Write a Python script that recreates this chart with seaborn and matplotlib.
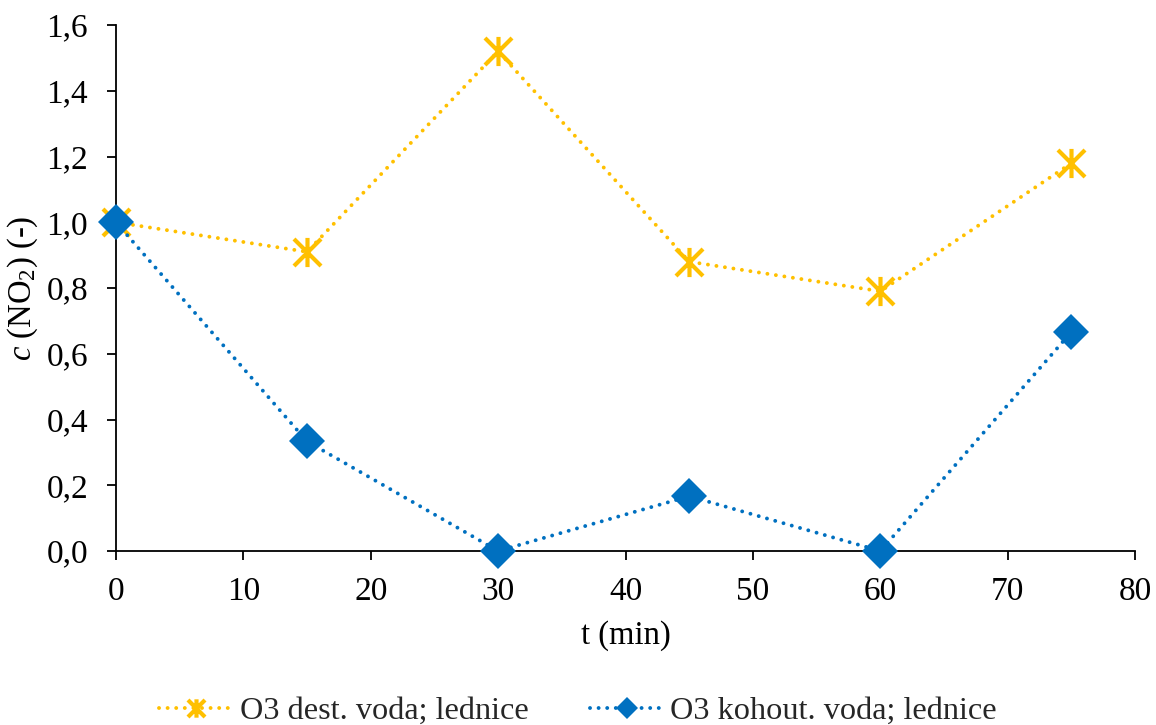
import matplotlib
matplotlib.use("Agg")
import matplotlib.pyplot as plt
from matplotlib.path import Path
from matplotlib.ticker import FuncFormatter, MultipleLocator
import numpy as np
import pandas as pd
import seaborn as sns

# Sampling times (min) and relative NO2 concentration
time_min = [0, 15, 30, 45, 60, 75]
dest_voda = [1.0, 0.91, 1.52, 0.88, 0.79, 1.18]
kohout_voda = [1.0, 1/3, 0.0, 1/6, 0.0, 2/3]
series_names = ["O3 dest. voda; lednice", "O3 kohout. voda; lednice"]

sns.set_theme(style="white")
plt.rcParams["font.family"] = ["Liberation Serif", "DejaVu Serif"]
plt.rcParams["mathtext.fontset"] = "custom"
plt.rcParams["mathtext.rm"] = "Liberation Serif"
plt.rcParams["mathtext.it"] = "Liberation Serif:italic"

df = pd.DataFrame({
    "t": time_min * 2,
    "c": dest_voda + kohout_voda,
    "serie": [series_names[0]] * len(time_min) + [series_names[1]] * len(time_min),
})

# Asterisk marker: an X crossed by a vertical bar
ast = Path(
    [(-1, -1), (1, 1), (-1, 1), (1, -1), (0, -1.08), (0, 1.08)],
    [Path.MOVETO, Path.LINETO, Path.MOVETO, Path.LINETO, Path.MOVETO, Path.LINETO],
)

fig = plt.figure(figsize=(11.56, 7.25), dpi=100)
ax = fig.add_axes([0.1003, 0.240, 0.8817, 0.7255])

colors = ["#FFC000", "#0070C0"]
dots = (0, (0.01, 2.2))
sns.lineplot(data=df[df.serie == series_names[0]], x="t", y="c", ax=ax,
             color=colors[0], linestyle=dots, linewidth=2.8,
             dash_capstyle="round",
             marker=ast, markersize=21, markeredgewidth=3,
             markeredgecolor=colors[0], markerfacecolor="none",
             clip_on=False, label=series_names[0], legend=False)
sns.lineplot(data=df[df.serie == series_names[1]], x="t", y="c", ax=ax,
             color=colors[1], linestyle=dots, linewidth=2.8,
             dash_capstyle="round",
             marker="D", markersize=18, markeredgewidth=0,
             markerfacecolor=colors[1],
             clip_on=False, label=series_names[1], legend=False)

ax.set_xlim(0, 80)
ax.set_ylim(0, 1.6)
ax.xaxis.set_major_locator(MultipleLocator(10))
ax.yaxis.set_major_locator(MultipleLocator(0.2))
ax.yaxis.set_major_formatter(FuncFormatter(lambda v, p: f"{v:.1f}".replace(".", ",")))

for side in ["top", "right"]:
    ax.spines[side].set_visible(False)
for side in ["left", "bottom"]:
    ax.spines[side].set_color("black")
    ax.spines[side].set_linewidth(1.3)
    ax.spines[side].set_zorder(0.5)

ax.tick_params(axis="both", which="major", direction="out", length=6.5, width=1.3,
               color="black", labelsize=24, labelcolor="black",
               bottom=True, left=True)
ax.tick_params(axis="x", pad=11.5)
ax.tick_params(axis="y", pad=13.5)

ax.set_xlabel("t (min)", fontsize=23.5, color="black", labelpad=10)
ax.set_ylabel(r"$c$ (NO$_2$) (-)", fontsize=23.5, color="black", labelpad=4.5)
ax.grid(False)

handles = ax.get_lines()[:2]
fig.legend(handles, series_names, loc="upper center", bbox_to_anchor=(0.5, 0.039),
           ncol=2, frameon=False, fontsize=23.2, handlelength=2.3,
           columnspacing=1.9, handletextpad=0.2, markerscale=0.63,
           borderaxespad=0, borderpad=0)

fig.savefig("out.png", dpi=100)
